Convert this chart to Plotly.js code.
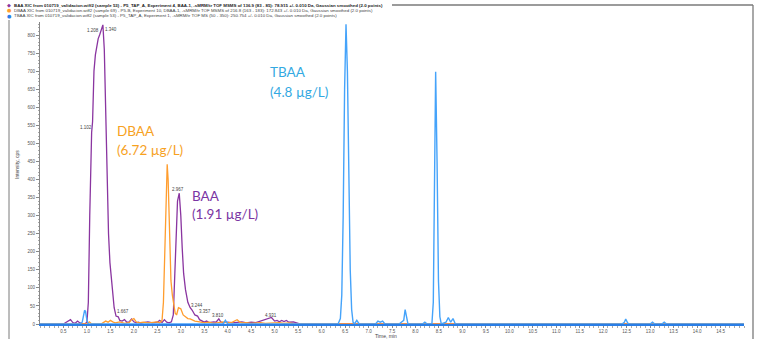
<!DOCTYPE html>
<html><head><meta charset="utf-8">
<script src="https://cdn.plot.ly/plotly-3.0.1.min.js"></script>
<style>html,body{margin:0;padding:0;background:#fff}#chart{width:761px;height:339px}</style>
</head><body><div id="chart"></div>
<script>
// ---- BAA (purple) ----
const baaTime = [0,0.5,0.55,0.6,0.65,0.7,0.75,0.8,0.85,0.9,0.95,1.0,1.03,1.06,1.08,1.10,1.12,1.15,1.18,1.21,1.24,1.27,1.30,1.34,1.37,1.40,1.43,1.46,1.49,1.52,1.55,1.58,1.62,1.667,1.7,1.75,1.8,1.85,1.9,1.95,2.0,2.05,2.1,2.15,2.2,2.3,2.4,2.5,2.55,2.6,2.65,2.7,2.75,2.8,2.84,2.87,2.9,2.93,2.967,3.0,3.03,3.06,3.1,3.15,3.2,3.244,3.3,3.357,3.4,3.45,3.5,3.55,3.6,3.7,3.75,3.81,3.85,3.9,4.0,4.1,4.2,4.3,4.4,4.5,4.6,4.7,4.8,4.85,4.931,5.0,5.05,5.1,5.15,5.2,5.25,5.3,5.4,5.5,5.55,15];
const baaInt  = [0,0,4,8,12,4,2,8,3,1,0,5,60,300,470,530,560,700,745,775,790,800,815,828,760,560,380,250,170,120,85,45,22,20,10,8,12,5,6,14,6,3,5,2,4,6,3,5,10,4,12,5,3,6,25,120,260,340,362,300,210,140,95,60,45,38,25,22,12,8,5,8,4,6,5,14,6,3,5,3,4,6,3,5,4,8,12,14,18,8,10,6,10,7,10,5,6,2,0,0];
// ---- DBAA (orange) ----
const dbaaTime = [0,1.0,1.05,1.1,1.3,1.4,1.45,1.5,1.55,1.6,1.7,1.8,1.9,1.95,2.0,2.05,2.1,2.2,2.3,2.4,2.5,2.55,2.6,2.63,2.66,2.69,2.71,2.73,2.76,2.79,2.82,2.85,2.88,2.91,2.95,3.0,3.05,3.1,3.15,3.2,3.25,3.3,3.4,3.5,3.6,3.7,3.8,3.9,4.0,4.1,4.2,4.25,4.3,4.4,4.5,4.6,4.7,4.8,4.9,5.0,5.1,5.2,5.3,5.4,5.5,15];
const dbaaInt  = [0,0,6,0,0,8,5,10,6,3,6,2,4,12,15,6,3,5,3,4,6,3,10,60,200,380,442,400,230,120,80,60,30,25,45,42,25,20,15,14,10,8,6,3,5,2,4,6,3,5,12,6,3,4,2,3,4,2,3,2,4,2,3,1,0,0];
// ---- TBAA (blue) ----
const tbaaTime = [0,0.85,0.9,0.93,0.95,0.97,1.0,1.03,3.9,3.95,4.0,6.35,6.4,6.43,6.46,6.49,6.52,6.55,6.58,6.61,6.64,6.67,6.7,6.75,6.8,7.15,7.2,7.25,7.3,7.35,7.65,7.7,7.75,7.78,7.81,7.84,8.15,8.2,8.25,8.35,8.38,8.41,8.43,8.46,8.49,8.52,8.55,8.65,8.7,8.75,8.8,8.85,12.4,12.45,12.48,12.52,12.55,13.0,13.05,13.1,13.25,13.3,13.35,15];
const tbaaInt  = [0,0,5,25,38,35,10,0,0,10,0,0,15,80,300,650,830,700,420,150,40,5,0,10,0,0,8,5,8,0,0,5,10,40,20,0,0,5,0,0,60,400,698,450,120,20,0,5,18,5,15,0,0,5,14,3,0,0,5,0,0,5,0,0];
// ---- peak labels ----
const peakLabels = ['1.208','1.340','1.102','1.667','2.967','3.244','3.357','3.810','4.931'];
const peakLabelX = [1.12,1.52,0.97,1.76,2.95,3.35,3.52,3.79,4.93];
const peakLabelY = [812,816,545,34,373,51,34,23,23];
// ---- ticks ----
const xTickVals = [0.5,1.0,1.5,2.0,2.5,3.0,3.5,4.0,4.5,5.0,5.5,6.0,6.5,7.0,7.5,8.0,8.5,9.0,9.5,10.0,10.5,11.0,11.5,12.0,12.5,13.0,13.5,14.0,14.5];
const xTickText = ['0.5','1.0','1.5','2.0','2.5','3.0','3.5','4.0','4.5','5.0','5.5','6.0','6.5','7.0','7.5','8.0','8.5','9.0','9.5','10.0','10.5','11.0','11.5','12.0','12.5','13.0','13.5','14.0','14.5'];
const yTickVals = [0,50,100,150,200,250,300,350,400,450,500,550,600,650,700,750,800];
const yTickText = ['0','50','100','150','200','250','300','350','400','450','500','550','600','650','700','750','800'];
// ---- legend / labels ----
const legendNames = [
 'BAA XIC from 010719_validacion.wiff2 (sample 53) - P5_TAP_A, Experiment 4, BAA-1, -sMRM/tr TOF MSMS of 136.9 (83 - 85): 78.915 +/- 0.010 Da, Gaussian smoothed (2.0 points)',
 'DBAA XIC from 010719_validacion.wiff2 (sample 69) - P5-B, Experiment 10, DBAA-1, -sMRM/tr TOF MSMS of 216.8 (163 - 183): 172.843 +/- 0.010 Da, Gaussian smoothed (2.0 points)',
 'TBAA XIC from 010719_validacion.wiff2 (sample 53) - P5_TAP_A, Experiment 1, -sMRM/tr TOF MS (50 - 350): 250.754 +/- 0.010 Da, Gaussian smoothed (2.0 points)'];
const compoundNames = ['TBAA','DBAA','BAA'];
const compoundConc  = ['(4.8 µg/L)','(6.72 µg/L)','(1.91 µg/L)'];
const compoundX = [4.858,1.598,3.196];
const compoundY1 = [698,534,354];
const compoundY2 = [642,482,305];
const threshold = {x:[-0.06], y:[17]};

const cPurple='#8a35a0', cOrange='#ff9d2e', cBlue='#45a3fa';
const compoundColors=['#33a9e2','#f7a21f','#7a35a3'];

const traces = [
 {x:baaTime,y:baaInt,mode:'lines',line:{color:cPurple,width:1.3},showlegend:false,hoverinfo:'skip'},
 {x:dbaaTime,y:dbaaInt,mode:'lines',line:{color:cOrange,width:1.3},showlegend:false,hoverinfo:'skip'},
 {x:tbaaTime,y:tbaaInt,mode:'lines',line:{color:cBlue,width:1.4},showlegend:false,hoverinfo:'skip'},
 {x:threshold.x,y:threshold.y,mode:'markers',marker:{symbol:'diamond',size:6,color:'#1f3fb8'},cliponaxis:false,showlegend:false,hoverinfo:'skip'}
];

const F='Liberation Sans, Arial, sans-serif';
const ann=[];
peakLabels.forEach((t,i)=>ann.push({x:peakLabelX[i],y:peakLabelY[i],text:t,showarrow:false,font:{family:F,size:4.5,color:'#444'}}));
compoundNames.forEach((n,i)=>{
  ann.push({x:compoundX[i],y:compoundY1[i],text:n,xanchor:'left',showarrow:false,font:{family:'Lato, sans-serif',size:13.5,color:compoundColors[i]}});
  ann.push({x:compoundX[i],y:compoundY2[i],text:compoundConc[i],xanchor:'left',showarrow:false,font:{family:'Lato, sans-serif',size:13.5,color:compoundColors[i]}});
});
const legendSym=[['◆',cPurple],['●',cOrange],['●','#2a7ee6']];
const legY=[5,10.5,16];
legendNames.forEach((n,i)=>{
  const txt = i===0 ? '<b>'+n+'</b>' : n;
  ann.push({xref:'paper',yref:'paper',x:(12-40)/704,y:(324-legY[i])/302,xanchor:'left',yanchor:'middle',text:txt,showarrow:false,font:{family:F,size:4.4,color:i===0?'#222':'#444'},bgcolor:i===0?'#fff':'rgba(0,0,0,0)'});
  ann.push({xref:'paper',yref:'paper',x:(9-40)/704,y:(324-legY[i])/302,xanchor:'center',yanchor:'middle',text:legendSym[i][0],showarrow:false,font:{family:'DejaVu Sans',size:5,color:legendSym[i][1]}});
});
ann.push({xref:'paper',yref:'paper',x:(386-40)/704,y:(324-335.5)/302,yanchor:'middle',text:'Time, min',showarrow:false,font:{family:F,size:5,color:'#444'}});
ann.push({xref:'paper',yref:'paper',x:(12-40)/704,y:(324-165)/302,text:'Intensity, cps',textangle:-90,showarrow:false,font:{family:F,size:5,color:'#444'}});

const shapes=[
 {type:'line',xref:'paper',yref:'paper',x0:(392-40)/704,x1:(753-40)/704,y0:(324-5)/302,y1:(324-5)/302,line:{color:'#7a7a7a',width:1.3}},
 {type:'line',xref:'paper',yref:'paper',x0:(753-40)/704,x1:(753-40)/704,y0:(324-5)/302,y1:(324-339)/302,line:{color:'#7a7a7a',width:1.3}},
 {type:'line',xref:'paper',yref:'paper',x0:(9-40)/704,x1:(9-40)/704,y0:(324-20)/302,y1:(324-339)/302,line:{color:'#7a7a7a',width:1}}
];

const layout={
 width:761,height:339,margin:{l:40,r:17,t:22,b:15},
 paper_bgcolor:'#fff',plot_bgcolor:'#fff',showlegend:false,
 xaxis:{range:[0,15],tickmode:'array',tickvals:xTickVals,ticktext:xTickText,ticks:'outside',ticklen:2,tickcolor:'#888',
   showgrid:false,zeroline:false,showline:true,linecolor:'#2a7ee6',linewidth:2,
   tickfont:{family:F,size:4.5,color:'#555'},
   minor:{tickmode:'linear',tick0:0,dtick:0.1,ticklen:1.5,tickcolor:'#aaa',ticks:'outside',showgrid:false}},
 yaxis:{range:[0,836],tickmode:'array',tickvals:yTickVals,ticktext:yTickText,ticks:'outside',ticklen:3,tickcolor:'#888',
   showgrid:false,zeroline:false,showline:true,linecolor:'#888',linewidth:1,
   tickfont:{family:F,size:4.5,color:'#555'},
   minor:{tickmode:'linear',tick0:0,dtick:10,ticklen:1.5,tickcolor:'#aaa',ticks:'outside',showgrid:false}},
 annotations:ann,shapes:shapes
};
Plotly.newPlot('chart',traces,layout,{staticPlot:true,displayModeBar:false});
</script></body></html>
